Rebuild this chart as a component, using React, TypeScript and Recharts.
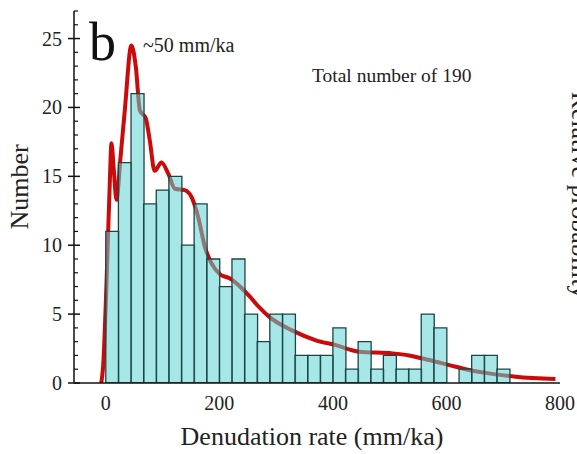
import React from 'react';
import { ComposedChart, Bar, Line, XAxis, YAxis } from 'recharts';

const FONT = '"Liberation Serif", "Times New Roman", "DejaVu Serif", serif';

// Histogram: counts per denudation-rate bin (bins of equal width starting at 0)
const binWidth = 600 / 27;
const counts = [11, 16, 21, 13, 14, 15, 10, 13, 9, 7, 9, 5, 3, 5, 5, 2, 2, 2, 4, 1, 3, 1, 2, 1, 1, 5, 4, 0, 1, 2, 2, 1];

// Probability-density curve (in count-equivalent units)
const kdeX = [-8, -4.7, 1.2, 7, 10, 14, 18.8, 26, 33.5, 45, 53, 60, 70.5, 77.5, 86, 98, 110, 121.6, 139, 151, 162.7, 174.4, 186, 201, 218, 239, 253, 270, 288, 329, 370, 405, 446, 505, 534, 569, 605, 640, 675, 722, 792];
const kdeY = [0, 1.2, 7.2, 14.5, 17.4, 15.5, 13.3, 16.4, 19.8, 24.5, 22.9, 19.8, 19.2, 17.6, 15.4, 16.0, 15.2, 14.1, 14.0, 13.5, 12.05, 9.9, 8.7, 7.9, 7.6, 6.9, 6.3, 5.5, 4.8, 3.8, 3.1, 2.75, 2.27, 2.15, 2.0, 1.67, 1.3, 0.94, 0.7, 0.46, 0.29];

const xTicks = [0, 200, 400, 600, 800];
const yTicks = Array.from({ length: 28 }, (_, i) => i);

const barData = counts.map((c, i) => ({ x: (i + 0.5) * binWidth, count: c }));
const kdeData = kdeX.map((x, i) => ({ x, d: kdeY[i] }));

const YTick = (props: any) => {
  const { x, y, payload } = props;
  const v = payload.value;
  const major = v % 5 === 0;
  return (
    <g>
      {major ? (
        <line x1={x - 6} x2={x + 6} y1={y} y2={y} stroke="#111" strokeWidth={1.5} />
      ) : (
        <line x1={x} x2={x + 4} y1={y} y2={y} stroke="#111" strokeWidth={1.2} />
      )}
      {major && (
        <text x={x - 12} y={y} dy="0.35em" textAnchor="end" fontSize={20} fill="#222" fontFamily={FONT}>
          {v}
        </text>
      )}
    </g>
  );
};

export default function App() {
  return (
    <div style={{ position: 'absolute', left: 0, top: 0, background: '#fff' }}>
      <ComposedChart
        width={577}
        height={454}
        data={barData}
        margin={{ top: 11, right: 17, bottom: 0, left: 0 }}
        barCategoryGap={0}
        barGap={0}
      >
        <XAxis
          xAxisId="x"
          dataKey="x"
          type="number"
          domain={[-56, 800]}
          allowDataOverflow
          ticks={xTicks}
          interval={0}
          height={71}
          tickLine={false}
          tickSize={0}
          tickMargin={13}
          axisLine={{ stroke: '#111', strokeWidth: 1.5 }}
          tick={{ fontSize: 20, fill: '#222', fontFamily: FONT }}
        />
        <XAxis
          xAxisId="top"
          dataKey="x"
          type="number"
          orientation="top"
          domain={[-56, 800]}
          allowDataOverflow
          height={0}
          tick={false}
          tickLine={false}
          axisLine={{ stroke: '#111', strokeWidth: 1.5 }}
        />
        <YAxis
          yAxisId="y"
          type="number"
          domain={[0, 27]}
          allowDataOverflow
          ticks={yTicks}
          interval={0}
          width={74}
          tickSize={0}
          tickMargin={0}
          tickLine={false}
          axisLine={{ stroke: '#111', strokeWidth: 1.5 }}
          tick={<YTick />}
        />
        <YAxis
          yAxisId="prob"
          orientation="right"
          type="number"
          domain={[0, 27]}
          allowDataOverflow
          width={0}
          tick={false}
          tickLine={false}
          axisLine={{ stroke: '#111', strokeWidth: 1.5 }}
        />
        <Line
          xAxisId="top"
          yAxisId="prob"
          data={kdeData}
          dataKey="d"
          type="monotone"
          stroke="#cc0a0a"
          strokeWidth={4}
          dot={false}
          activeDot={false}
          isAnimationActive={false}
          zIndex={250}
        />
        <Bar
          xAxisId="x"
          yAxisId="y"
          dataKey="count"
          fill="#5fd3d3"
          fillOpacity={0.55}
          stroke="#1c4444"
          strokeWidth={1.3}
          isAnimationActive={false}
        />
        <text x={89} y={60} fontSize={54} fill="#111" fontFamily={FONT}>b</text>
        <text x={143} y={52} fontSize={20} fill="#222" fontFamily={FONT}>~50 mm/ka</text>
        <text x={312} y={82} fontSize={19.5} fill="#222" fontFamily={FONT}>Total number of 190</text>
        <text x={312} y={445} fontSize={26} fill="#222" fontFamily={FONT} textAnchor="middle">Denudation rate (mm/ka)</text>
        <text transform="translate(19,187) rotate(-90)" fontSize={26} fill="#222" fontFamily={FONT} textAnchor="middle" dominantBaseline="central">Number</text>
        <text transform="translate(572,195) rotate(90)" fontSize={26} fill="#222" fontFamily={FONT} textAnchor="middle">Relative probability</text>
      </ComposedChart>
    </div>
  );
}
